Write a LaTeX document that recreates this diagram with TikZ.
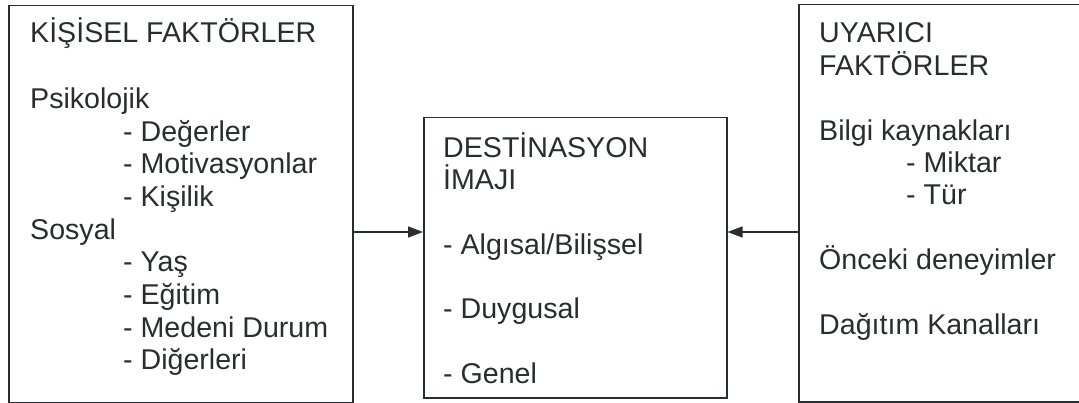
\documentclass[tikz,border=0pt]{standalone}
\usepackage{fontspec}
\setmainfont{Liberation Sans}
\usetikzlibrary{arrows.meta}
\definecolor{ink}{HTML}{2A2D30}
\begin{document}
\begin{tikzpicture}[x=1pt,y=-1pt,
  box/.style={draw=ink,line width=1.5pt,rectangle,inner sep=0pt,anchor=north west},
  txt/.style={anchor=base west,inner sep=0pt,text=ink,font=\fontsize{28.6}{32}\selectfont},
  arr/.style={draw=ink,line width=1.4pt,-{Triangle[length=15pt,width=11pt]}}]
\clip (0,0) rectangle (1079,403);
\fill[white] (0,0) rectangle (1079,403);

% the three frames
\node[box,minimum width=344pt,minimum height=397pt] (kf) at (8,5) {};
\node[box,minimum width=303pt,minimum height=280pt] (di) at (423,117) {};
\node[box,minimum width=300pt,minimum height=397pt] (uf) at (798,4) {};

% personal factors
\node[txt] (k0) at (30,43) {KİŞİSEL FAKTÖRLER};
\node[txt] (k1) at (30,108.4) {Psikolojik};
\node[txt] (k2) at (123,141.1) {- Değerler};
\node[txt] (k3) at (123,173.8) {- Motivasyonlar};
\node[txt] (k4) at (123,206.5) {- Kişilik};
\node[txt] (k5) at (30,239.2) {Sosyal};
\node[txt] (k6) at (123,271.9) {- Yaş};
\node[txt] (k7) at (123,304.6) {- Eğitim};
\node[txt] (k8) at (123,337.3) {- Medeni Durum};
\node[txt] (k9) at (123,370) {- Diğerleri};

% destination image
\node[txt] (d0) at (443,157.5) {DESTİNASYON};
\node[txt] (d1) at (443,189.8) {İMAJI};
\node[txt] (d2) at (443,254.4) {- Algısal/Bilişsel};
\node[txt] (d3) at (443,319) {- Duygusal};
\node[txt] (d4) at (443,383.6) {- Genel};

% stimulus factors
\node[txt] (u0) at (819,43) {UYARICI};
\node[txt] (u1) at (819,75.4) {FAKTÖRLER};
\node[txt] (u2) at (819,140.2) {Bilgi kaynakları};
\node[txt] (u3) at (906,172.6) {- Miktar};
\node[txt] (u4) at (906,205) {- Tür};
\node[txt] (u5) at (819,269.8) {Önceki deneyimler};
\node[txt] (u6) at (819,334.6) {Dağıtım Kanalları};

% connectors into the central frame
\coordinate (ay) at (0,232);
\draw[arr] (kf.east |- ay) -- (di.west |- ay);
\draw[arr] (uf.west |- ay) -- (di.east |- ay);
\end{tikzpicture}
\end{document}
